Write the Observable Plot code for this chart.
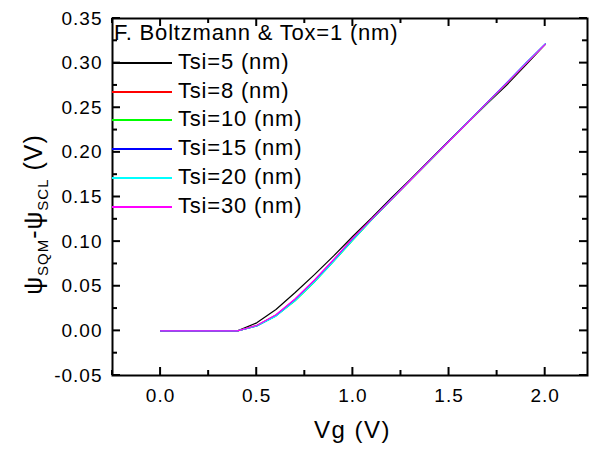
<!DOCTYPE html>
<html>
<head>
<meta charset="utf-8">
<script src="https://cdn.jsdelivr.net/npm/d3@7"></script>
<script src="https://cdn.jsdelivr.net/npm/@observablehq/plot@0.6"></script>
<style>
  body { margin: 0; background: #fff; }
  #chart { position: relative; width: 592px; height: 450px; font-family: "Liberation Sans", Arial, sans-serif; color: #000; }
  .legend { position: absolute; left: 0; top: 0; font-size: 22px; letter-spacing: 0.8px; }
  .legend .row { position: absolute; height: 28px; line-height: 28px; white-space: nowrap; }
  .legend .swatch { position: absolute; left: 0; top: 14px; width: 60px; height: 2px; }
  .legend .lab { position: absolute; left: 66px; top: 0; }
</style>
</head>
<body>
<div id="chart"></div>
<script>
// ---- data ----
const vg = [0, 0.1, 0.2, 0.3, 0.4, 0.5, 0.6, 0.7, 0.8, 0.9, 1.0, 1.1, 1.2, 1.3, 1.4, 1.5, 1.6, 1.7, 1.8, 1.9, 2.0];
const tsi5  = [0,0,0,0,0,0.009,0.024,0.043,0.063,0.084,0.106,0.127,0.149,0.170,0.1915,0.213,0.234,0.255,0.2755,0.298,0.321];
const tsi8  = [0,0,0,0,0,0.006,0.0178,0.0355,0.0565,0.0795,0.1035,0.1255,0.1472,0.169,0.1905,0.2125,0.234,0.256,0.2775,0.2995,0.321];
const tsi10 = [0,0,0,0,0,0.0055,0.0168,0.0338,0.0548,0.0778,0.1018,0.125,0.147,0.169,0.1905,0.2125,0.234,0.2555,0.2775,0.2995,0.321];
const tsi15 = [0,0,0,0,0,0.0056,0.017,0.0345,0.0555,0.0785,0.1025,0.1255,0.1475,0.1692,0.191,0.2128,0.2345,0.2562,0.278,0.3002,0.3215];
const tsi20 = [0,0,0,0,0,0.0055,0.0165,0.034,0.055,0.078,0.102,0.1252,0.1472,0.169,0.1908,0.2126,0.2343,0.256,0.2778,0.3,0.3213];
const tsi30 = [0,0,0,0,0,0.006,0.018,0.036,0.057,0.080,0.104,0.1257,0.1474,0.169,0.191,0.2125,0.234,0.256,0.2775,0.2995,0.321];
const seriesNames  = ["Tsi=5 (nm)", "Tsi=8 (nm)", "Tsi=10 (nm)", "Tsi=15 (nm)", "Tsi=20 (nm)", "Tsi=30 (nm)"];
const seriesColors = ["#000000", "#ff0000", "#00ff00", "#0000ff", "#00ffff", "#ff00ff"];
const seriesValues = [tsi5, tsi8, tsi10, tsi15, tsi20, tsi30];
const legendTitle = "F. Boltzmann & Tox=1 (nm)";
const xLabel = "Vg (V)";
const xMajor = [0, 0.5, 1.0, 1.5, 2.0];
const xMinor = [-0.25, 0.25, 0.75, 1.25, 1.75];
const yMajor = [-0.05, 0, 0.05, 0.10, 0.15, 0.20, 0.25, 0.30, 0.35];
const yMinor = [-0.025, 0.025, 0.075, 0.125, 0.175, 0.225, 0.275, 0.325];

const rows = [];
seriesValues.forEach((vals, i) => vals.forEach((v, j) => rows.push({vg: vg[j], psi: v, series: seriesNames[i]})));

const W = 592, H = 450, mL = 112, mR = 5, mT = 18, mB = 75;
const plot = Plot.plot({
  width: W, height: H,
  marginLeft: mL, marginRight: mR, marginTop: mT, marginBottom: mB,
  style: {fontFamily: '"Liberation Sans", Arial, sans-serif', fontSize: "19px"},
  x: {domain: [-0.25, 2.22], ticks: xMajor, tickFormat: d => d.toFixed(1), tickSize: 0, tickPadding: 13, label: null},
  y: {domain: [-0.05, 0.35], ticks: yMajor, tickFormat: d => d.toFixed(2), tickSize: 0, tickPadding: 10, label: null},
  color: {domain: seriesNames, range: seriesColors},
  marks: [
    Plot.line(rows, {x: "vg", y: "psi", z: "series", stroke: "series", strokeWidth: 1.2}),
    Plot.frame({stroke: "black", strokeWidth: 2})
  ]
});

const chart = document.getElementById("chart");
chart.appendChild(plot);
const svg = d3.select(plot);
svg.selectAll('g[aria-label$="tick label"] text').style("letter-spacing", "1px");

// inward ticks on all four sides, placed with the plot's own scales
const sx = plot.scale("x"), sy = plot.scale("y");
const x0 = sx.range[0], x1 = sx.range[1], y0 = sy.range[0], y1 = sy.range[1];
const yBot = Math.max(y0, y1), yTop = Math.min(y0, y1);
const gt = svg.append("g").attr("stroke", "black").attr("stroke-width", 2);
function xt(vals, len) {
  vals.forEach(v => {
    const px = sx.apply(v);
    gt.append("line").attr("x1", px).attr("x2", px).attr("y1", yBot).attr("y2", yBot - len);
    gt.append("line").attr("x1", px).attr("x2", px).attr("y1", yTop).attr("y2", yTop + len);
  });
}
function yt(vals, len) {
  vals.forEach(v => {
    const py = sy.apply(v);
    gt.append("line").attr("y1", py).attr("y2", py).attr("x1", x0).attr("x2", x0 + len);
    gt.append("line").attr("y1", py).attr("y2", py).attr("x1", x1).attr("x2", x1 - len);
  });
}
xt(xMajor, 8); xt(xMinor, 5); yt(yMajor, 8); yt(yMinor, 5);

// axis titles
const plotCx = (mL + (W - mR)) / 2;
const plotCy = (mT + (H - mB)) / 2;
svg.append("text")
  .attr("x", plotCx + 3).attr("y", H - 12)
  .attr("text-anchor", "middle").attr("fill", "black")
  .style("font-size", "24px").style("letter-spacing", "1.5px")
  .text(xLabel);
const yl = svg.append("text")
  .attr("transform", `translate(42,${plotCy + 18}) rotate(-90)`)
  .attr("text-anchor", "middle").attr("fill", "black")
  .style("font-size", "25px").style("white-space", "pre").style("letter-spacing", "1px");
yl.append("tspan").text("ψ");
yl.append("tspan").attr("dy", 6).style("font-size", "15px").text("SQM");
yl.append("tspan").attr("dy", -6).text("-ψ");
yl.append("tspan").attr("dy", 6).style("font-size", "15px").text("SCL");
yl.append("tspan").attr("dy", -6).text(" (V)");

// legend (inside the frame, top-left)
const legend = document.createElement("div");
legend.className = "legend";
const rowTop = k => Math.round(19 + 28.8 * k);
const t = document.createElement("div");
t.className = "row";
t.style.left = "114px"; t.style.top = rowTop(0) + "px";
t.textContent = legendTitle;
legend.appendChild(t);
seriesNames.forEach((name, i) => {
  const r = document.createElement("div");
  r.className = "row";
  r.style.left = mL + "px"; r.style.top = rowTop(i + 1) + "px";
  const sw = document.createElement("div");
  sw.className = "swatch";
  sw.style.background = seriesColors[i];
  const lab = document.createElement("span");
  lab.className = "lab";
  lab.textContent = name;
  r.appendChild(sw); r.appendChild(lab);
  legend.appendChild(r);
});
chart.appendChild(legend);
</script>
</body>
</html>
